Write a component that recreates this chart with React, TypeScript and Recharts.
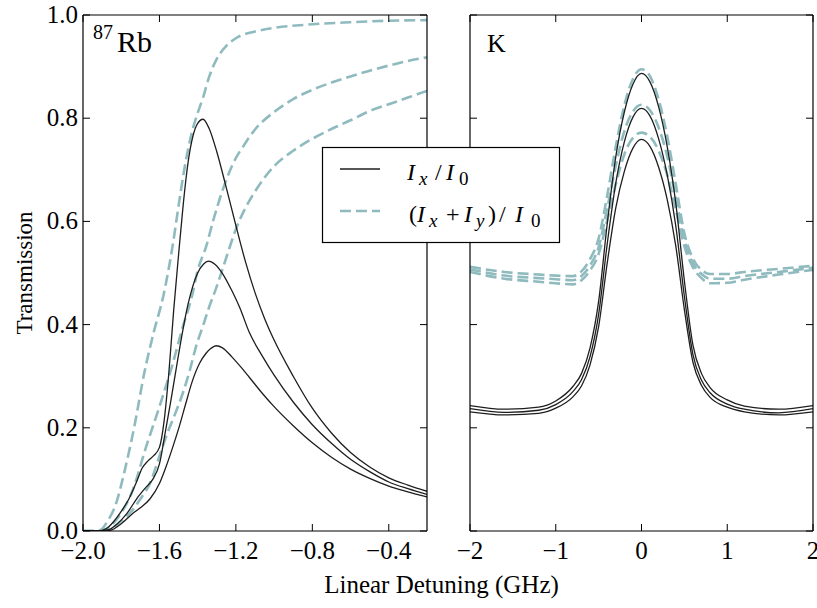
import React from 'react';
import { LineChart, Line, XAxis, YAxis } from 'recharts';

// ---------- Left panel (87Rb) ----------
const rbSolid1X = [-2.0, -1.92, -1.88, -1.84, -1.8, -1.76, -1.72, -1.69, -1.66, -1.63, -1.6, -1.575, -1.55, -1.525, -1.5, -1.475, -1.45, -1.425, -1.4, -1.372, -1.34, -1.3, -1.25, -1.2, -1.15, -1.1, -1.05, -1.0, -0.9, -0.8, -0.7, -0.6, -0.5, -0.4, -0.3, -0.2];
const rbSolid1Y = [0, 0, 0.004, 0.018, 0.038, 0.062, 0.095, 0.122, 0.136, 0.146, 0.162, 0.215, 0.31, 0.43, 0.535, 0.635, 0.715, 0.765, 0.79, 0.798, 0.78, 0.735, 0.665, 0.592, 0.522, 0.462, 0.412, 0.37, 0.3, 0.238, 0.19, 0.152, 0.124, 0.103, 0.089, 0.077];

const rbSolid2X = [-2.0, -1.92, -1.87, -1.82, -1.77, -1.72, -1.67, -1.635, -1.6, -1.57, -1.54, -1.5, -1.45, -1.4, -1.37, -1.343, -1.31, -1.27, -1.22, -1.18, -1.13, -1.06, -1.0, -0.9, -0.8, -0.7, -0.6, -0.5, -0.4, -0.3, -0.2];
const rbSolid2Y = [0, 0, 0.002, 0.014, 0.034, 0.062, 0.085, 0.1, 0.13, 0.19, 0.253, 0.342, 0.44, 0.5, 0.517, 0.523, 0.517, 0.499, 0.465, 0.433, 0.385, 0.338, 0.302, 0.25, 0.206, 0.17, 0.139, 0.115, 0.095, 0.082, 0.071];

const rbSolid3X = [-2.0, -1.92, -1.86, -1.8, -1.74, -1.7, -1.65, -1.6, -1.565, -1.53, -1.5, -1.46, -1.43, -1.39, -1.357, -1.33, -1.304, -1.27, -1.22, -1.17, -1.13, -1.06, -1.0, -0.9, -0.8, -0.7, -0.6, -0.5, -0.4, -0.3, -0.2];
const rbSolid3Y = [0, 0, 0.001, 0.014, 0.034, 0.045, 0.062, 0.092, 0.125, 0.163, 0.198, 0.25, 0.288, 0.325, 0.344, 0.354, 0.359, 0.355, 0.337, 0.316, 0.298, 0.266, 0.241, 0.204, 0.171, 0.143, 0.12, 0.102, 0.087, 0.076, 0.066];

const rbDash1X = [-2.0, -1.95, -1.91, -1.87, -1.83, -1.78, -1.73, -1.68, -1.63, -1.58, -1.53, -1.5, -1.475, -1.45, -1.425, -1.4, -1.372, -1.34, -1.3, -1.25, -1.2, -1.1, -1.0, -0.8, -0.6, -0.4, -0.2];
const rbDash1Y = [0, 0, 0.002, 0.02, 0.05, 0.12, 0.205, 0.305, 0.385, 0.455, 0.555, 0.63, 0.69, 0.74, 0.78, 0.81, 0.84, 0.88, 0.915, 0.94, 0.955, 0.968, 0.975, 0.982, 0.986, 0.989, 0.99];

const rbDash2X = [-2.0, -1.95, -1.9, -1.85, -1.8, -1.74, -1.67, -1.6, -1.53, -1.48, -1.43, -1.4, -1.355, -1.32, -1.27, -1.22, -1.15, -1.1, -1.0, -0.9, -0.8, -0.7, -0.6, -0.5, -0.4, -0.3, -0.2];
const rbDash2Y = [0, 0, 0.001, 0.012, 0.035, 0.079, 0.163, 0.241, 0.325, 0.393, 0.455, 0.505, 0.552, 0.6, 0.66, 0.708, 0.752, 0.778, 0.812, 0.837, 0.855, 0.869, 0.881, 0.892, 0.902, 0.911, 0.918];

const rbDash3X = [-2.0, -1.95, -1.89, -1.84, -1.79, -1.74, -1.7, -1.65, -1.6, -1.565, -1.52, -1.478, -1.44, -1.409, -1.37, -1.339, -1.3, -1.25, -1.2, -1.15, -1.1, -1.0, -0.9, -0.8, -0.7, -0.6, -0.5, -0.4, -0.3, -0.2];
const rbDash3Y = [0, 0, 0.001, 0.008, 0.022, 0.041, 0.062, 0.092, 0.145, 0.183, 0.225, 0.267, 0.313, 0.357, 0.4, 0.435, 0.474, 0.53, 0.585, 0.626, 0.658, 0.707, 0.737, 0.76, 0.779, 0.796, 0.814, 0.827, 0.84, 0.853];

// ---------- Right panel (K) ----------
const kX = [-2.0, -1.6, -1.2, -1.0, -0.8, -0.7, -0.6, -0.5, -0.4, -0.3, -0.2, -0.1, 0, 0.1, 0.2, 0.3, 0.4, 0.5, 0.6, 0.7, 0.8, 1.0, 1.2, 1.6, 2.0];
const kSolid1Y = [0.243, 0.236, 0.24, 0.252, 0.28, 0.305, 0.355, 0.445, 0.595, 0.725, 0.812, 0.866, 0.887, 0.87, 0.822, 0.745, 0.635, 0.485, 0.36, 0.305, 0.278, 0.254, 0.242, 0.236, 0.243];
const kSolid2Y = [0.237, 0.23, 0.234, 0.245, 0.27, 0.293, 0.338, 0.42, 0.556, 0.674, 0.754, 0.802, 0.819, 0.804, 0.76, 0.69, 0.591, 0.455, 0.342, 0.292, 0.268, 0.246, 0.236, 0.229, 0.237];
const kSolid3Y = [0.231, 0.225, 0.228, 0.238, 0.26, 0.281, 0.322, 0.396, 0.519, 0.626, 0.697, 0.742, 0.759, 0.745, 0.705, 0.642, 0.552, 0.429, 0.327, 0.282, 0.259, 0.24, 0.231, 0.225, 0.231];
const kDash1Y = [0.512, 0.502, 0.497, 0.495, 0.494, 0.503, 0.527, 0.567, 0.65, 0.745, 0.825, 0.876, 0.895, 0.881, 0.836, 0.765, 0.672, 0.577, 0.528, 0.506, 0.498, 0.498, 0.502, 0.508, 0.514];
const kDash2Y = [0.507, 0.495, 0.49, 0.488, 0.486, 0.494, 0.515, 0.55, 0.625, 0.708, 0.775, 0.813, 0.826, 0.815, 0.782, 0.726, 0.646, 0.564, 0.519, 0.498, 0.489, 0.489, 0.494, 0.502, 0.51];
const kDash3Y = [0.502, 0.489, 0.483, 0.48, 0.478, 0.486, 0.505, 0.537, 0.602, 0.672, 0.73, 0.762, 0.772, 0.764, 0.737, 0.69, 0.623, 0.552, 0.511, 0.49, 0.48, 0.481, 0.487, 0.497, 0.506];

// ---------- Ticks ----------
const rbTicks = [-2.0, -1.6, -1.2, -0.8, -0.4];
const rbTickLabels = ['\u22122.0', '\u22121.6', '\u22121.2', '\u22120.8', '\u22120.4'];
const kTicks = [-2, -1, 0, 1, 2];
const kTickLabels = ['\u22122', '\u22121', '0', '1', '2'];
const yTicks = [0, 0.2, 0.4, 0.6, 0.8, 1.0];
const yTickLabels = ['0.0', '0.2', '0.4', '0.6', '0.8', '1.0'];

const FONT = '"Liberation Serif", "DejaVu Serif", serif';
const TEAL = '#8fbbbf';
const DARK = '#1e1e1e';
const DASH = '11 5';
const TICK_FS = 25;

const zip = (xs: number[], ys: number[]) => xs.map((x, i) => ({ x, y: ys[i] }));

const makeBottomTick = (ticks: number[], labels: string[]) => (props: any) => {
  const { x, y, payload } = props;
  const idx = ticks.findIndex((t) => Math.abs(t - payload.value) < 1e-9);
  return (
    <g>
      <line x1={x} x2={x} y1={y} y2={y - 7} stroke="#000" strokeWidth={1} />
      <text x={x} y={y + 28} textAnchor="middle" fontFamily={FONT} fontSize={TICK_FS} fill="#000">
        {idx >= 0 ? labels[idx] : ''}
      </text>
    </g>
  );
};
const TopTick = (props: any) => {
  const { x, y } = props;
  return <line x1={x} x2={x} y1={y} y2={y + 7} stroke="#000" strokeWidth={1} />;
};
const makeLeftTick = (showLabel: boolean) => (props: any) => {
  const { x, y, payload } = props;
  const idx = yTicks.findIndex((t) => Math.abs(t - payload.value) < 1e-9);
  return (
    <g>
      <line x1={x} x2={x + 7} y1={y} y2={y} stroke="#000" strokeWidth={1} />
      {showLabel ? (
        <text x={x - 5} y={y + 8} textAnchor="end" fontFamily={FONT} fontSize={TICK_FS} fill="#000">
          {idx >= 0 ? yTickLabels[idx] : ''}
        </text>
      ) : null}
    </g>
  );
};
const RightTick = (props: any) => {
  const { x, y } = props;
  return <line x1={x} x2={x - 7} y1={y} y2={y} stroke="#000" strokeWidth={1} />;
};

const axisLine = { stroke: '#000', strokeWidth: 1.2 };

function Panel(props: {
  width: number;
  leftW: number;
  rightW: number;
  domain: [number, number];
  ticks: number[];
  labels: string[];
  solids: { x: number; y: number }[][];
  dashes: { x: number; y: number }[][];
  showYLabels: boolean;
}) {
  const { width, leftW, rightW, domain, ticks, labels, solids, dashes, showYLabels } = props;
  return (
    <LineChart width={width} height={608} margin={{ top: 0, left: 0, right: 0, bottom: 0 }}>
      <XAxis
        xAxisId="b"
        dataKey="x"
        type="number"
        domain={domain}
        ticks={ticks}
        allowDataOverflow
        orientation="bottom"
        height={77}
        tickSize={0}
        tickMargin={0}
        tickLine={false}
        axisLine={axisLine}
        tick={makeBottomTick(ticks, labels)}
        interval={0}
      />
      <XAxis
        xAxisId="t"
        dataKey="x"
        type="number"
        domain={domain}
        ticks={ticks}
        allowDataOverflow
        orientation="top"
        height={15}
        tickSize={0}
        tickMargin={0}
        tickLine={false}
        axisLine={axisLine}
        tick={TopTick}
        interval={0}
      />
      <YAxis
        yAxisId="l"
        type="number"
        domain={[0, 1]}
        ticks={yTicks}
        allowDataOverflow
        orientation="left"
        width={leftW}
        tickSize={0}
        tickMargin={0}
        tickLine={false}
        axisLine={axisLine}
        tick={makeLeftTick(showYLabels)}
        interval={0}
      />
      <YAxis
        yAxisId="r"
        type="number"
        domain={[0, 1]}
        ticks={yTicks}
        allowDataOverflow
        orientation="right"
        width={rightW}
        tickSize={0}
        tickMargin={0}
        tickLine={false}
        axisLine={axisLine}
        tick={RightTick}
        interval={0}
      />
      {dashes.map((d, i) => (
        <Line
          key={'d' + i}
          xAxisId="b"
          yAxisId="l"
          data={d}
          dataKey="y"
          type="monotone"
          stroke={TEAL}
          strokeWidth={2.6}
          strokeDasharray={DASH}
          dot={false}
          activeDot={false}
          isAnimationActive={false}
        />
      ))}
      {solids.map((d, i) => (
        <Line
          key={'s' + i}
          xAxisId="b"
          yAxisId="l"
          data={d}
          dataKey="y"
          type="monotone"
          stroke={DARK}
          strokeWidth={1.3}
          dot={false}
          activeDot={false}
          isAnimationActive={false}
        />
      ))}
    </LineChart>
  );
}

export default function App() {
  const rbSolids = [zip(rbSolid1X, rbSolid1Y), zip(rbSolid2X, rbSolid2Y), zip(rbSolid3X, rbSolid3Y)];
  const rbDashes = [zip(rbDash1X, rbDash1Y), zip(rbDash2X, rbDash2Y), zip(rbDash3X, rbDash3Y)];
  const kSolids = [zip(kX, kSolid1Y), zip(kX, kSolid2Y), zip(kX, kSolid3Y)];
  const kDashes = [zip(kX, kDash1Y), zip(kX, kDash2Y), zip(kX, kDash3Y)];

  return (
    <div style={{ position: 'absolute', left: 0, top: 0, width: 817, height: 608, background: '#fff' }}>
      <div style={{ position: 'absolute', left: 0, top: 0 }}>
        <Panel
          width={440}
          leftW={83}
          rightW={13}
          domain={[-2, -0.2]}
          ticks={rbTicks}
          labels={rbTickLabels}
          solids={rbSolids}
          dashes={rbDashes}
          showYLabels={true}
        />
      </div>
      <div style={{ position: 'absolute', left: 440, top: 0 }}>
        <Panel
          width={377}
          leftW={30}
          rightW={4}
          domain={[-2, 2]}
          ticks={kTicks}
          labels={kTickLabels}
          solids={kSolids}
          dashes={kDashes}
          showYLabels={false}
        />
      </div>
      <svg
        width={817}
        height={608}
        style={{ position: 'absolute', left: 0, top: 0, pointerEvents: 'none' }}
        fontFamily={FONT}
      >
        <text x={93} y={39} fontSize={20} fill="#000">87</text>
        <text x={117} y={52} fontSize={30} fill="#000">Rb</text>
        <text x={487} y={52} fontSize={26} fill="#000">K</text>
        <text x={32} y={273} fontSize={23} textAnchor="middle" transform="rotate(-90, 32, 273)" fill="#000">
          Transmission
        </text>
        <text x={441.5} y={593} fontSize={25} textAnchor="middle" fill="#000">
          Linear Detuning (GHz)
        </text>
        <rect x={322.5} y={147.5} width={237} height={95} fill="#fff" stroke="#000" strokeWidth={1.2} />
        <line x1={340} x2={380} y1={169} y2={169} stroke={DARK} strokeWidth={1.3} />
        <line x1={340} x2={380} y1={211} y2={211} stroke={TEAL} strokeWidth={2.6} strokeDasharray={DASH} />
        {/* row 1: I_x / I_0 */}
        <text x={407} y={180} fontSize={24} fontStyle="italic" fill="#000">I</text>
        <text x={419} y={185} fontSize={19} fontStyle="italic" fill="#000">x</text>
        <text x={435} y={180} fontSize={24} fill="#000">/</text>
        <text x={446} y={180} fontSize={24} fontStyle="italic" fill="#000">I</text>
        <text x={459} y={185} fontSize={19} fill="#000">0</text>
        {/* row 2: (I_x + I_y) / I_0 */}
        <text x={409} y={222} fontSize={24} fill="#000">(</text>
        <text x={417} y={222} fontSize={24} fontStyle="italic" fill="#000">I</text>
        <text x={429} y={227} fontSize={19} fontStyle="italic" fill="#000">x</text>
        <text x={446} y={222} fontSize={24} fill="#000">+</text>
        <text x={464} y={222} fontSize={24} fontStyle="italic" fill="#000">I</text>
        <text x={476} y={227} fontSize={19} fontStyle="italic" fill="#000">y</text>
        <text x={488} y={222} fontSize={24} fill="#000">)</text>
        <text x={499} y={222} fontSize={24} fill="#000">/</text>
        <text x={515} y={222} fontSize={24} fontStyle="italic" fill="#000">I</text>
        <text x={531} y={227} fontSize={19} fill="#000">0</text>
      </svg>
    </div>
  );
}
